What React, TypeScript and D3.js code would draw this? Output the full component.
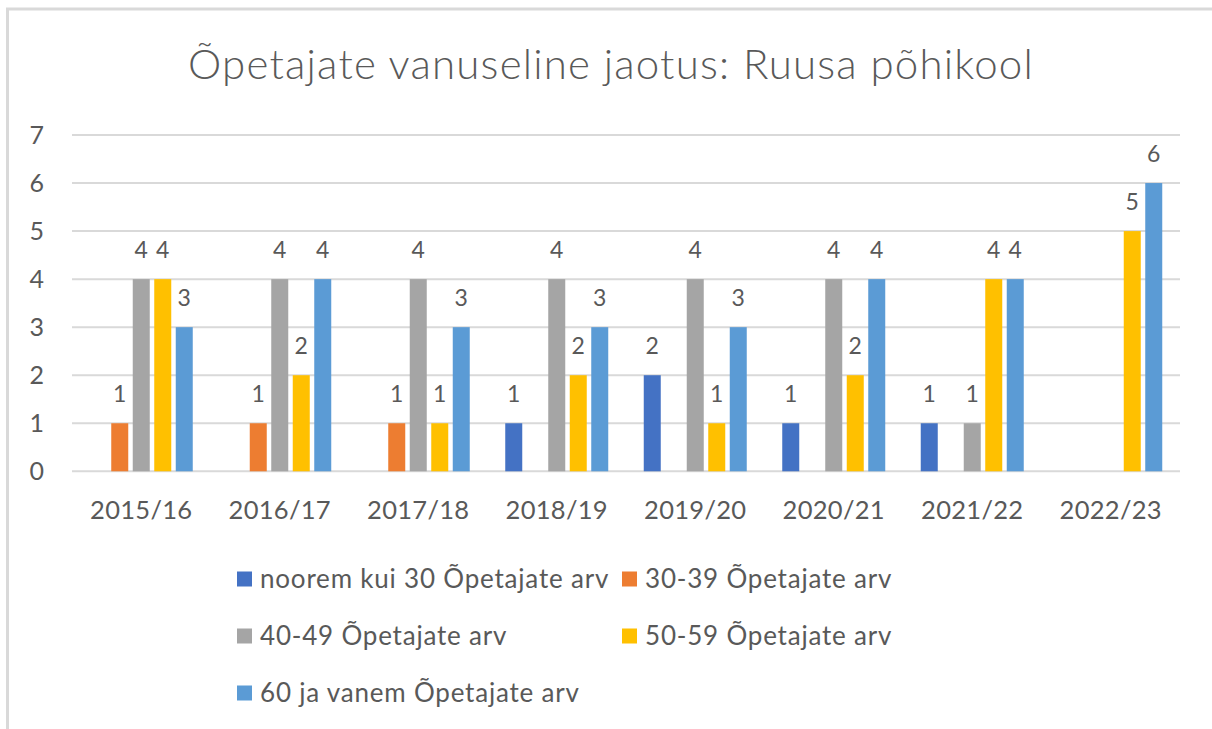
import React from "react";
import * as d3 from "d3";

const categories = ["2015/16", "2016/17", "2017/18", "2018/19", "2019/20", "2020/21", "2021/22", "2022/23"];
const seriesNames = [
  "noorem kui 30 Õpetajate arv",
  "30-39 Õpetajate arv",
  "40-49 Õpetajate arv",
  "50-59 Õpetajate arv",
  "60 ja vanem Õpetajate arv",
];
const under30: (number | null)[] = [null, null, null, 1, 2, 1, 1, null];
const age30to39: (number | null)[] = [1, 1, 1, null, null, null, null, null];
const age40to49: (number | null)[] = [4, 4, 4, 4, 4, 4, 1, null];
const age50to59: (number | null)[] = [4, 2, 1, 2, 1, 2, 4, 5];
const age60plus: (number | null)[] = [3, 4, 3, 3, 3, 4, 4, 6];
const yTicks = [0, 1, 2, 3, 4, 5, 6, 7];
const title = "Õpetajate vanuseline jaotus: Ruusa põhikool";

const colors = ["#4472C4", "#ED7D31", "#A5A5A5", "#FFC000", "#5B9BD5"];
const seriesValues = [under30, age30to39, age40to49, age50to59, age60plus];

const W = 1212;
const H = 729;
const left = 72;
const right = 1180;
const top = 135;
const bottom = 471.3;
const FONT = "Lato, 'Open Sans', sans-serif";
const TEXT = "#595959";

export default function App() {
  const x0 = d3.scaleBand<string>().domain(categories).range([left, right]).padding(0);
  const y = d3.scaleLinear().domain([0, 7]).range([bottom, top]);
  const step = 21.5;
  const barW = 17;
  const inner = step * seriesNames.length;
  const x1 = d3
    .scaleBand<number>()
    .domain(seriesNames.map((_, i) => i))
    .range([(x0.bandwidth() - inner) / 2, (x0.bandwidth() + inner) / 2])
    .paddingInner((step - barW) / step)
    .paddingOuter((step - barW) / step / 2);

  const legendRows = [
    [0, 1],
    [2, 3],
    [4],
  ];
  const legendY = [579, 636, 693];
  const legendX = [237, 622];

  return (
    <svg
      width={W}
      height={H}
      style={{ position: "absolute", left: 0, top: 0, background: "#fff" }}
    >
      <rect x={0} y={0} width={W} height={H} fill="#fff" />
      <line x1={6} x2={W} y1={9} y2={9} stroke="#D9D9D9" strokeWidth={3} />
      <line x1={7.5} x2={7.5} y1={9} y2={H} stroke="#D9D9D9" strokeWidth={3} />

      <text
        x={611}
        y={79}
        textAnchor="middle"
        fontFamily={FONT}
        fontWeight={300}
        fontSize={42}
        letterSpacing={1.2}
        fill={TEXT}
      >
        {title}
      </text>

      {yTicks.map((t) => (
        <g key={t}>
          <line x1={left} x2={right} y1={y(t)} y2={y(t)} stroke="#D9D9D9" strokeWidth={2} />
          <text
            x={44}
            y={y(t)}
            dy="0.36em"
            textAnchor="end"
            fontFamily={FONT}
            fontSize={25}
            fill={TEXT}
          >
            {t}
          </text>
        </g>
      ))}

      {categories.map((c, ci) => (
        <g key={c} transform={`translate(${x0(c)},0)`}>
          {seriesValues.map((vals, si) => {
            const v = vals[ci];
            if (v == null) return null;
            const bx = x1(si)!;
            return (
              <g key={si}>
                <rect x={bx} y={y(v)} width={x1.bandwidth()} height={y(0) - y(v)} fill={colors[si]} />
                <text
                  x={bx + x1.bandwidth() / 2}
                  y={y(v) - 21}
                  textAnchor="middle"
                  fontFamily={FONT}
                  fontSize={23}
                  fill={TEXT}
                >
                  {v}
                </text>
              </g>
            );
          })}
          <text
            x={x0.bandwidth() / 2}
            y={519}
            textAnchor="middle"
            fontFamily={FONT}
            fontSize={25.5}
            letterSpacing={0.3}
            fill={TEXT}
          >
            {c}
          </text>
        </g>
      ))}

      {legendRows.map((row, ri) =>
        row.map((si, ci) => (
          <g key={si} transform={`translate(${legendX[ci]},${legendY[ri]})`}>
            <rect x={0} y={-7.5} width={15} height={15} fill={colors[si]} />
            <text
              x={23}
              y={0}
              dy="0.36em"
              fontFamily={FONT}
              fontSize={26}
              letterSpacing={0.8}
              fill={TEXT}
            >
              {seriesNames[si]}
            </text>
          </g>
        ))
      )}
    </svg>
  );
}
